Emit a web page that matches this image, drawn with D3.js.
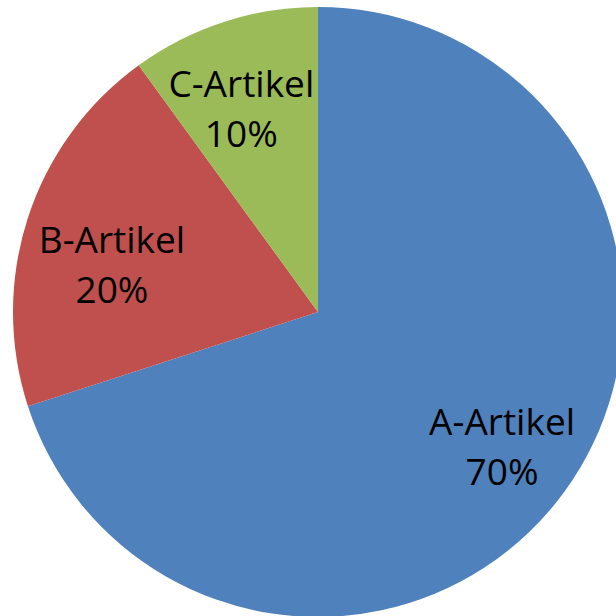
<!DOCTYPE html>
<html><head><meta charset="utf-8">
<script src="https://cdn.jsdelivr.net/npm/d3@7"></script>
<style>html,body{margin:0;padding:0;background:#fff;}</style>
</head><body>
<svg id="chart" width="616" height="616"></svg>
<script>
const categories = ["A-Artikel", "B-Artikel", "C-Artikel"];
const values = [70, 20, 10];
const percentLabels = ["70%", "20%", "10%"];
const colors = ["#4F81BD", "#C0504D", "#9BBB59"];

const svg = d3.select("#chart");
const cx = 318, cy = 312, R = 305;
const g = svg.append("g").attr("transform", `translate(${cx},${cy})`);

const data = categories.map((c, i) => ({cat: c, value: values[i], pct: percentLabels[i], color: colors[i]}));
const pie = d3.pie().sort(null).value(d => d.value);
const arcs = pie(data);
const arc = d3.arc().innerRadius(0).outerRadius(R);
const labelArc = d3.arc().innerRadius(R * 0.75).outerRadius(R * 0.75);

g.selectAll("path").data(arcs).join("path")
  .attr("d", arc)
  .attr("fill", d => d.data.color);

// label fit nudges (Excel-like best fit)
const nudge = [[-1, 1.5], [11.5, 25], [-6, 15.5]];
const lineGap = 50;
const lbl = g.selectAll("text.lbl").data(arcs).join("text")
  .attr("class", "lbl")
  .attr("text-anchor", "middle")
  .attr("font-family", "Open Sans, sans-serif")
  .attr("font-size", 37)
  .attr("fill", "#000")
  .attr("transform", (d, i) => {
    const c = labelArc.centroid(d);
    return `translate(${c[0] + nudge[i][0]},${c[1] + nudge[i][1] - 13})`;
  });
lbl.append("tspan").attr("x", 0).attr("y", 0).text(d => d.data.cat);
lbl.append("tspan").attr("x", 0).attr("y", lineGap).text(d => d.data.pct);
</script>
</body></html>
